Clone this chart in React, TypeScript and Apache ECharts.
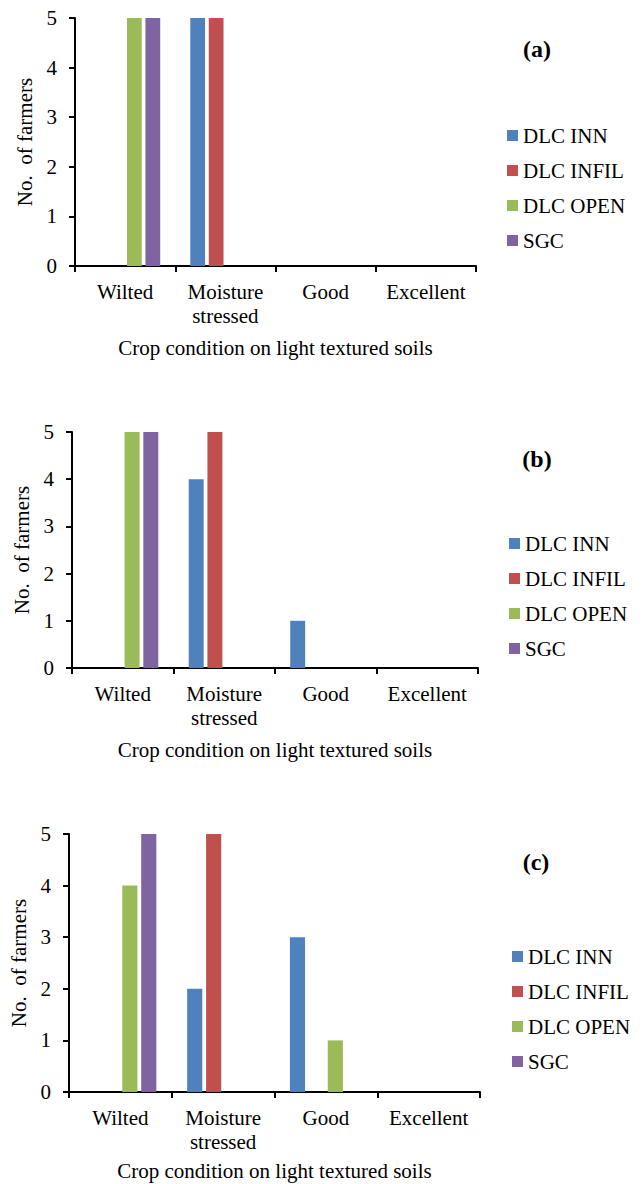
import React, { useEffect, useRef } from "react";
import * as echarts from "echarts";

const categories = ["Wilted", "Moisture\nstressed", "Good", "Excellent"];
const seriesNames = ["DLC INN", "DLC INFIL", "DLC OPEN", "SGC"];
const colors = ["#4F81BD", "#C0504D", "#9BBB59", "#8064A2"];

// Panel (a)
const aInn = [0, 5, 0, 0];
const aInfil = [0, 5, 0, 0];
const aOpen = [5, 0, 0, 0];
const aSgc = [5, 0, 0, 0];
// Panel (b)
const bInn = [0, 4, 1, 0];
const bInfil = [0, 5, 0, 0];
const bOpen = [5, 0, 0, 0];
const bSgc = [5, 0, 0, 0];
// Panel (c)
const cInn = [0, 2, 3, 0];
const cInfil = [0, 5, 0, 0];
const cOpen = [4, 0, 1, 0];
const cSgc = [5, 0, 0, 0];

const panelLabels = ["(a)", "(b)", "(c)"];
const xTitle = "Crop condition on light textured soils";
const yTitle = "No.  of farmers";

const FONT = "Liberation Serif";

export default function App() {
  const ref = useRef<HTMLDivElement>(null);
  useEffect(() => {
    document.body.style.margin = "0";
    if (!ref.current) return;
    const chart = echarts.init(ref.current, null, { renderer: "svg" });
    const panels = [
      [aInn, aInfil, aOpen, aSgc],
      [bInn, bInfil, bOpen, bSgc],
      [cInn, cInfil, cOpen, cSgc],
    ];
    const grids = [
      { left: 75, top: 18, width: 401, height: 248 },
      { left: 72, top: 432, width: 406, height: 236 },
      { left: 69, top: 834, width: 411, height: 258 },
    ];
    const xNameGaps = [71, 71, 68];
    const legendPos = [
      { left: 507, top: 125 },
      { left: 509, top: 533 },
      { left: 512, top: 946 },
    ];
    const labelPos = [
      { x: 537, y: 49 },
      { x: 537, y: 459 },
      { x: 536, y: 862 },
    ];
    const axisLine = { show: true, lineStyle: { color: "#000", width: 2 } };
    const axisTick = { show: true, length: 6, lineStyle: { color: "#000", width: 2 } };

    const xAxis = grids.map((_, i) => ({
      type: "category",
      gridIndex: i,
      data: categories,
      boundaryGap: true,
      axisLine,
      axisTick: { ...axisTick, alignWithLabel: false },
      axisLabel: {
        fontFamily: FONT,
        fontSize: 21,
        color: "#000",
        margin: 14,
        lineHeight: 24,
        interval: 0,
      },
      name: xTitle,
      nameLocation: "middle",
      nameGap: xNameGaps[i],
      nameTextStyle: { fontFamily: FONT, fontSize: 21, color: "#000" },
      splitLine: { show: false },
    }));
    const yAxis = grids.map((_, i) => ({
      type: "value",
      gridIndex: i,
      min: 0,
      max: 5,
      interval: 1,
      axisLine,
      axisTick,
      axisLabel: { fontFamily: FONT, fontSize: 21, color: "#000", margin: 18 },
      splitLine: { show: false },
      name: yTitle,
      nameLocation: "middle",
      nameGap: 36,
      nameTextStyle: { fontFamily: FONT, fontSize: 21, color: "#000" },
    }));
    const series: any[] = [];
    panels.forEach((p, i) => {
      p.forEach((vals, j) => {
        series.push({
          type: "bar",
          name: seriesNames[j],
          xAxisIndex: i,
          yAxisIndex: i,
          data: vals,
          barGap: "25%",
          barCategoryGap: "30%",
          itemStyle: { color: colors[j] },
        });
      });
    });
    const legend = legendPos.map((pos) => ({
      orient: "vertical",
      left: pos.left,
      top: pos.top,
      padding: 0,
      itemWidth: 11,
      itemHeight: 11,
      itemGap: 14,
      icon: "rect",
      selectedMode: false,
      data: seriesNames,
      textStyle: { fontFamily: FONT, fontSize: 21, color: "#000", lineHeight: 21 },
    }));
    const graphic = labelPos.map((pos, i) => ({
      type: "text",
      x: pos.x,
      y: pos.y,
      style: {
        text: panelLabels[i],
        align: "center",
        verticalAlign: "middle",
        fontFamily: FONT,
        fontSize: 24,
        fontWeight: "bold",
        fill: "#000",
      },
    }));
    chart.setOption({
      animation: false,
      backgroundColor: "#fff",
      textStyle: { fontFamily: FONT },
      grid: grids.map((g) => ({ ...g, containLabel: false })),
      xAxis,
      yAxis,
      legend,
      series,
      graphic,
    });
    return () => chart.dispose();
  }, []);
  return <div ref={ref} style={{ width: 642, height: 1184 }} />;
}
